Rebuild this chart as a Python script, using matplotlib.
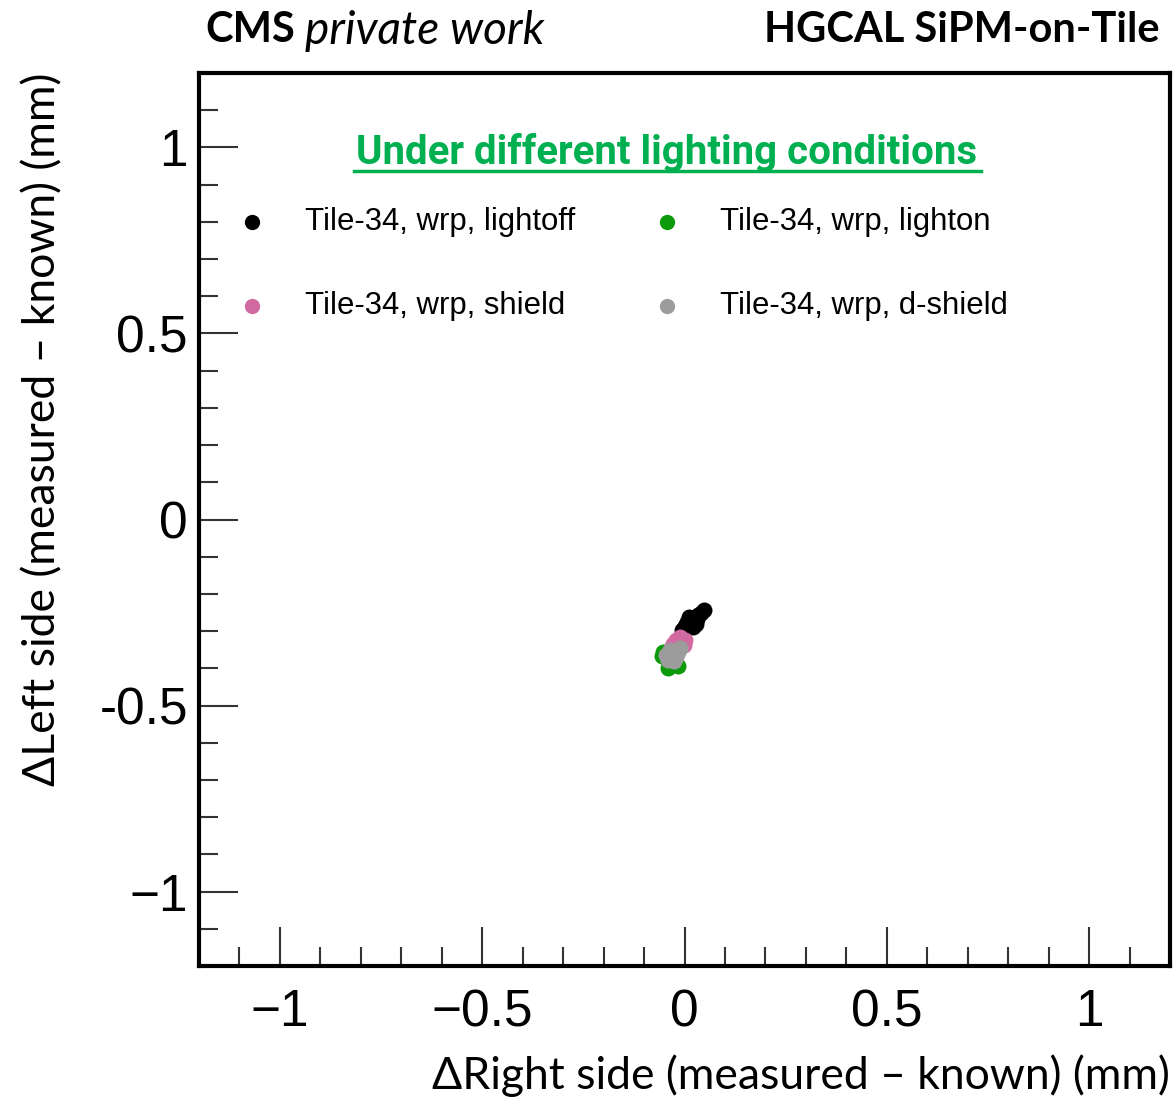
import matplotlib
matplotlib.use("Agg")
import matplotlib.pyplot as plt
from matplotlib.ticker import MultipleLocator, FixedLocator
from matplotlib.lines import Line2D

# ---- data ----
labels = ["Tile-34, wrp, lightoff", "Tile-34, wrp, lighton",
          "Tile-34, wrp, shield", "Tile-34, wrp, d-shield"]
colors = ["#000000", "#0a9a0a", "#d06aa0", "#9c9c9c"]

lightoff_x = [0.047, 0.034, 0.022, 0.015, 0.005, -0.005, 0.030, 0.040, 0.010, 0.028, 0.020, 0.000]
lightoff_y = [-0.243, -0.256, -0.270, -0.283, -0.275, -0.296, -0.268, -0.252, -0.262, -0.280, -0.288, -0.285]
lighton_x = [-0.052, -0.042, -0.015, -0.030, -0.045, -0.020, -0.055, -0.035]
lighton_y = [-0.356, -0.399, -0.394, -0.377, -0.372, -0.385, -0.368, -0.395]
shield_x = [-0.022, -0.002, -0.034, -0.010, -0.015, -0.028, 0.000]
shield_y = [-0.323, -0.337, -0.345, -0.315, -0.330, -0.335, -0.325]
dshield_x = [-0.042, -0.017, -0.030, -0.036, -0.022, -0.010, -0.045, -0.025]
dshield_y = [-0.377, -0.356, -0.364, -0.352, -0.370, -0.345, -0.365, -0.380]

xticks = [-1, -0.5, 0, 0.5, 1]
xticklabels = ["\u22121", "\u22120.5", "0", "0.5", "1"]
yticks = [-1, -0.5, 0, 0.5, 1]
yticklabels = ["\u22121", "-0.5", "0", "0.5", "1"]

W, H = 1174, 1099
fig = plt.figure(figsize=(W / 100, H / 100), dpi=100)
ax = fig.add_axes([199 / W, 1 - 966 / H, (1170 - 199) / W, (966 - 73) / H])

series = [(lightoff_x, lightoff_y, 0), (lighton_x, lighton_y, 1),
          (shield_x, shield_y, 2), (dshield_x, dshield_y, 3)]
for xs, ys, i in series:
    ax.plot(xs, ys, "o", ms=11.5, color=colors[i], mec="none", zorder=3 + i)

ax.set_xlim(-1.2, 1.2)
ax.set_ylim(-1.2, 1.2)
for s in ax.spines.values():
    s.set_linewidth(3)
ax.xaxis.set_major_locator(FixedLocator(xticks))
ax.yaxis.set_major_locator(FixedLocator(yticks))
ax.xaxis.set_minor_locator(MultipleLocator(0.1))
ax.yaxis.set_minor_locator(MultipleLocator(0.1))
ax.set_xticklabels(xticklabels)
ax.set_yticklabels(yticklabels)
ax.tick_params(which="both", direction="in", top=False, right=False, color="#333333")
ax.tick_params(which="major", length=28, width=1.5, labelsize=37)
ax.tick_params(axis="x", which="major", pad=16)
ax.tick_params(axis="y", which="major", pad=8)
ax.tick_params(which="minor", length=14, width=1.5)
for t in ax.get_xticklabels() + ax.get_yticklabels():
    t.set_fontfamily("Liberation Sans")

ax.set_xlabel("\u0394Right side (measured \u2013 known) (mm)", fontsize=32,
              fontfamily="Lato", loc="right", labelpad=12)
ax.set_ylabel("\u0394Left side (measured \u2013 known) (mm)", fontsize=32,
              fontfamily="Lato", loc="top", labelpad=26)

def fx(px):
    return px / W
def fy(py):
    return 1 - py / H

# header texts
t1 = fig.text(fx(205), fy(30), "CMS", fontsize=30, fontweight="bold",
              fontfamily="Lato", va="center", ha="left")
fig.canvas.draw()
bb = t1.get_window_extent()
fig.text(fx(bb.x1 + 10), fy(31), "private work", fontsize=33, fontstyle="italic",
         fontfamily="Lato", va="center", ha="left")
fig.text(fx(1160), fy(30), "HGCAL SiPM-on-Tile", fontsize=30, fontweight="bold",
         fontfamily="Lato", va="center", ha="right")

# legend title
fig.text(fx(667), fy(153), "Under different lighting conditions", fontsize=29,
         fontweight="bold", fontfamily="Roboto", color="#00b050",
         ha="center", va="center")
fig.add_artist(Line2D([fx(354), fx(981)], [fy(171), fy(171)], color="#00b050", lw=2.5))

# legend entries
pos = [(252, 222), (667, 222), (252, 306), (667, 306)]
for i, (px, py) in enumerate(pos):
    fig.add_artist(Line2D([fx(px)], [fy(py)], marker="o", ms=11, color=colors[i],
                          mec="none", ls="none"))
    fig.text(fx(px + 53), fy(py), labels[i], fontsize=22.4, fontfamily="Liberation Sans",
             ha="left", va="center")

fig.savefig("out.png", dpi=100)
